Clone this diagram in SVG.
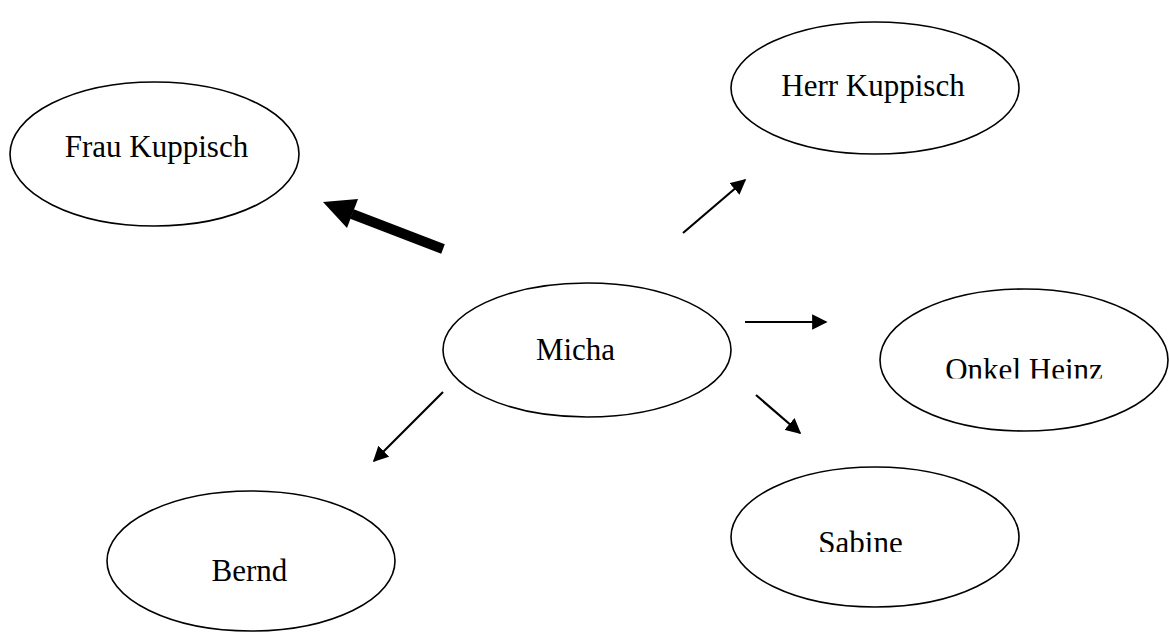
<svg xmlns="http://www.w3.org/2000/svg" width="1169" height="634" viewBox="0 0 1169 634">
<style>
.node{fill:#fff;stroke:#000;stroke-width:1.6}
.lbl{font-family:"Liberation Serif","Times New Roman",serif;font-size:31px;fill:#000;text-anchor:middle}
.con{stroke:#000;stroke-width:2.2;fill:none}
</style>
<defs>
<marker id="ah" viewBox="0 0 10 10" refX="9" refY="5" markerWidth="7" markerHeight="7" orient="auto" markerUnits="strokeWidth">
<path d="M0,0 L10,5 L0,10 z" fill="#000"/>
</marker>
<clipPath id="clipOnkel"><rect x="900" y="300" width="269" height="78.5"/></clipPath>
<clipPath id="clipSabine"><rect x="780" y="490" width="200" height="62"/></clipPath>
</defs>
<rect width="1169" height="634" fill="#fff"/>
<g id="frau-kuppisch">
<ellipse class="node" cx="154.5" cy="154" rx="144.5" ry="72"/>
<text class="lbl" x="156.5" y="157">Frau Kuppisch</text>
</g>
<g id="herr-kuppisch">
<ellipse class="node" cx="875" cy="88" rx="144" ry="66"/>
<text class="lbl" x="873" y="96">Herr Kuppisch</text>
</g>
<g id="micha">
<ellipse class="node" cx="587" cy="350" rx="144" ry="67"/>
<text class="lbl" x="575.5" y="360">Micha</text>
</g>
<g id="onkel-heinz">
<ellipse class="node" cx="1024" cy="360" rx="144" ry="71"/>
<text class="lbl" x="1024" y="379.5" clip-path="url(#clipOnkel)">Onkel Heinz</text>
</g>
<g id="sabine">
<ellipse class="node" cx="875" cy="537" rx="144" ry="70"/>
<text class="lbl" x="860.5" y="553" clip-path="url(#clipSabine)">Sabine</text>
</g>
<g id="bernd">
<ellipse class="node" cx="251" cy="561" rx="144" ry="70"/>
<text class="lbl" x="249.5" y="581">Bernd</text>
</g>
<g id="connectors">
<line x1="443" y1="249" x2="352" y2="214" stroke="#000" stroke-width="10"/>
<polygon points="323,202 358,199 347,228" fill="#000"/>
<line class="con" x1="683" y1="233" x2="745" y2="180" marker-end="url(#ah)"/>
<line class="con" x1="745" y1="322" x2="826" y2="322" marker-end="url(#ah)"/>
<line class="con" x1="756" y1="395" x2="800" y2="433" marker-end="url(#ah)"/>
<line class="con" x1="443" y1="392" x2="374" y2="461" marker-end="url(#ah)"/>
</g>
</svg>
